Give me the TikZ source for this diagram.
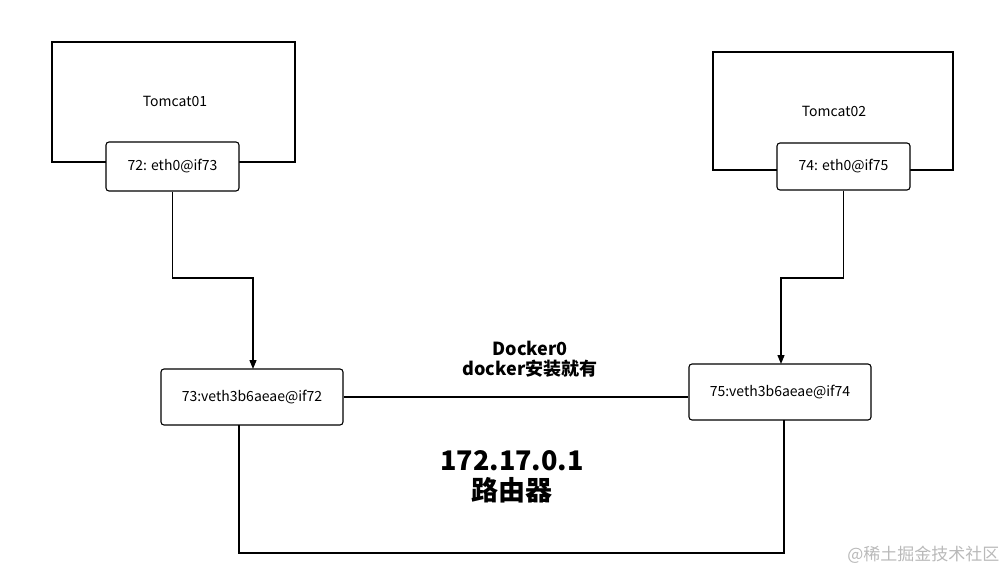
\documentclass[tikz,border=0pt]{standalone}
\usepackage{fontspec}
\setmainfont{Noto Sans CJK SC}
\usetikzlibrary{arrows.meta}
\begin{document}
\begin{tikzpicture}[x=1pt,y=-1pt,
  outer/.style={draw,line width=1.3pt,minimum width=#1,minimum height=#1},
  box/.style={draw,line width=1.1pt,rounded corners=3pt,fill=white,font=\fontsize{14}{16}\selectfont,inner sep=0pt},
  conn/.style={line width=1.3pt},
  arr/.style={conn,-{Triangle[length=9pt,width=7pt]}},
  big/.style={font=\bfseries\fontsize{18}{20}\selectfont,align=center},
  huge/.style={font=\bfseries\fontsize{27}{30}\selectfont,align=center}]
\useasboundingbox (0,0) rectangle (1007,572);
\draw[line width=1.3pt] (52,42) rectangle (295,162);
\node[font=\fontsize{14}{16}\selectfont] (t1) at (175,101) {Tomcat01};
\draw[line width=1.3pt] (713,52) rectangle (953,170);
\node[font=\fontsize{14}{16}\selectfont] (t2) at (834,111) {Tomcat02};
\node[box,minimum width=133pt,minimum height=49pt] (e1) at (172.5,166.5) {72: eth0@if73};
\node[box,minimum width=133pt,minimum height=47pt] (e2) at (843.5,166.5) {74: eth0@if75};
\node[box,minimum width=182pt,minimum height=56pt] (v1) at (252,397) {73:veth3b6aeae@if72};
\node[box,minimum width=182pt,minimum height=56pt] (v2) at (780,392) {75:veth3b6aeae@if74};
\draw[arr] (e1.south) |- (253,278) -- (253,369);
\draw[arr] (e2.south) |- (781,278) -- (781,364);
\draw[conn] (v1.east) -- (v2.west |- v1.east);
\draw[conn] (239,425) -- (239,553) -- (784,553) -- (784,420);
\node[big] (d0) at (530,359) {Docker0\\docker安装就有};
\node[huge] (ip) at (512,477) {172.17.0.1\\路由器};
\node[text=gray!55,font=\fontsize{17}{19}\selectfont,anchor=east] (wm) at (1003,555) {@稀土掘金技术社区};
\end{tikzpicture}
\end{document}
